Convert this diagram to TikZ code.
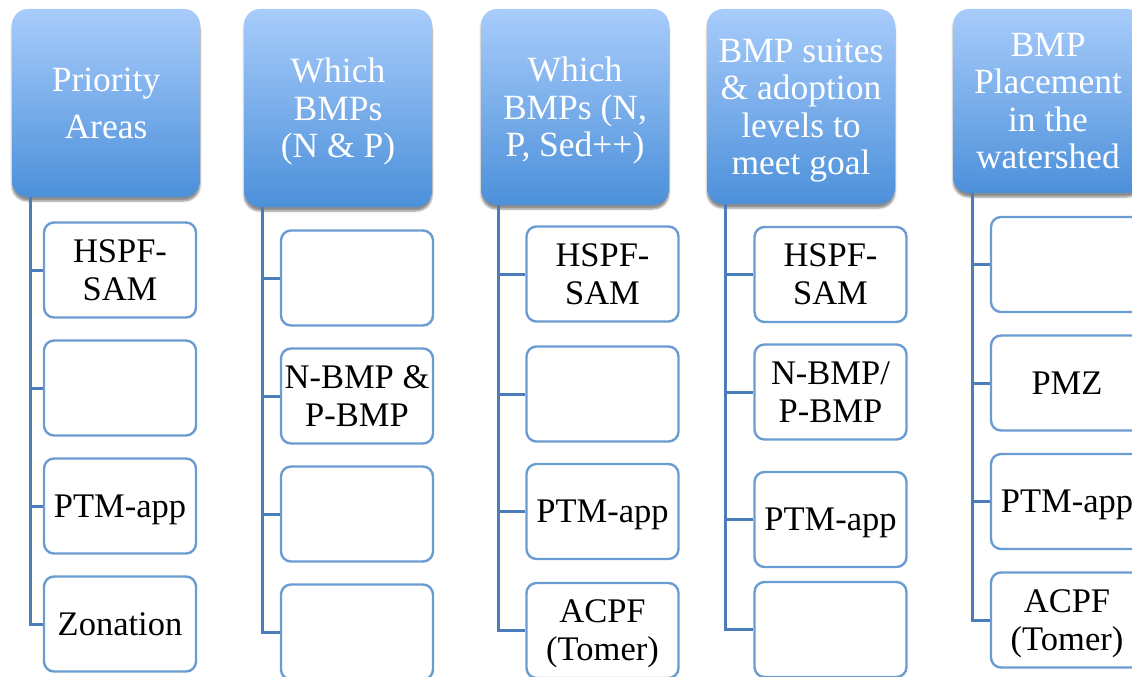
\documentclass[tikz,border=0pt]{standalone}
\usepackage{fontspec}
\setmainfont{Liberation Serif}
\usetikzlibrary{shadows.blur}

\definecolor{hdrTop}{HTML}{A8CCFB}
\definecolor{hdrBot}{HTML}{4C90DA}
\definecolor{boxEdge}{HTML}{6A9CD2}
\definecolor{trunkBlue}{HTML}{4A7DB9}

\tikzset{
  header/.style={rectangle, rounded corners=16pt, top color=hdrTop, bottom color=hdrBot,
    draw=none, minimum width=188pt, align=center, text=white, inner sep=0pt,
    text depth=-2pt, font=\fontsize{35.5}{37.5}\selectfont,
    blur shadow={shadow blur steps=6, shadow xshift=0pt, shadow yshift=-4pt, shadow opacity=45}},
  leaf/.style={rectangle, rounded corners=10pt, draw=boxEdge, line width=2.4pt, fill=white,
    minimum width=152pt, minimum height=95pt, align=center, inner sep=0pt,
    text depth=-4pt, font=\fontsize{34.5}{38}\selectfont},
  trunk/.style={draw=trunkBlue, line width=3pt}
}

\begin{document}
\begin{tikzpicture}[x=1pt,y=-1pt]
\useasboundingbox (0,0) rectangle (1132,677);

% ---- column 1: Priority Areas
\node[header, minimum height=188pt] (h1) at (106,103) {Priority\\[10pt]Areas};
\node[leaf] (c11) at (120,270) {HSPF-\\SAM};
\node[leaf] (c12) at (120,388) {};
\node[leaf] (c13) at (120,506) {PTM-app};
\node[leaf] (c14) at (120,624) {Zonation};
\coordinate (t1) at ([xshift=19pt]h1.south west);

% ---- column 2: Which BMPs (N & P)
\node[header, minimum height=198pt] (h2) at (338,108) {Which\\BMPs\\(N \& P)};
\node[leaf] (c21) at (357,278) {};
\node[leaf] (c22) at (357,396) {N-BMP \&\\P-BMP};
\node[leaf] (c23) at (357,514) {};
\node[leaf] (c24) at (357,632) {};
\coordinate (t2) at ([xshift=19pt]h2.south west);

% ---- column 3: Which BMPs (N, P, Sed++)
\node[header, minimum height=196pt] (h3) at (575,107) {Which\\BMPs (N,\\P, Sed++)};
\node[leaf] (c31) at (602.5,274) {HSPF-\\SAM};
\node[leaf] (c32) at (602.5,394) {};
\node[leaf] (c33) at (602.5,511.5) {PTM-app};
\node[leaf] (c34) at (602.5,630.5) {ACPF\\(Tomer)};
\coordinate (t3) at ([xshift=18pt]h3.south west);

% ---- column 4: BMP suites & adoption levels
\node[header, minimum height=195pt] (h4) at (801,106.5) {BMP suites\\\& adoption\\levels to\\meet goal};
\node[leaf] (c41) at (830.5,274.5) {HSPF-\\SAM};
\node[leaf] (c42) at (830.5,392) {N-BMP/\\P-BMP};
\node[leaf] (c43) at (830.5,519.5) {PTM-app};
\node[leaf] (c44) at (830.5,629.5) {};
\coordinate (t4) at ([xshift=18.5pt]h4.south west);

% ---- column 5: BMP placement in the watershed
\node[header, minimum width=190pt, minimum height=184pt] (h5) at (1048,101) {BMP\\Placement\\in the\\watershed};
\node[leaf] (c51) at (1067,264.5) {};
\node[leaf] (c52) at (1067,383) {PMZ};
\node[leaf] (c53) at (1067,501.5) {PTM-app};
\node[leaf] (c54) at (1067,620) {ACPF\\(Tomer)};
\coordinate (t5) at ([xshift=19.5pt]h5.south west);

% ---- connectors: trunk from each header, branch to each child
\foreach \k in {1,...,5}{
  \foreach \j in {1,...,4}{
    \draw[trunk] (t\k) |- (c\k\j.west);
  }
}
\end{tikzpicture}
\end{document}
